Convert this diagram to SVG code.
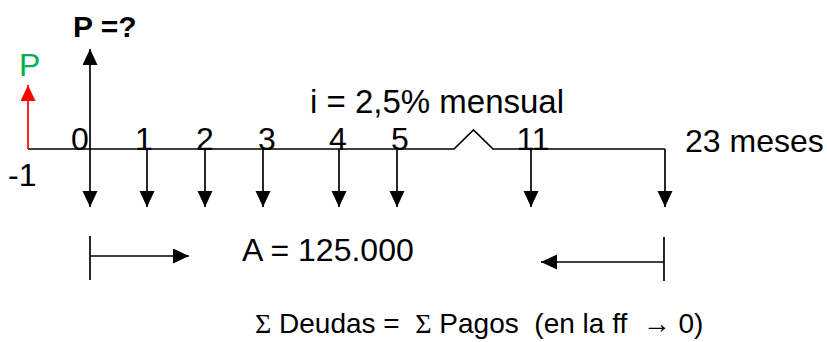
<svg xmlns="http://www.w3.org/2000/svg" width="827" height="342" viewBox="0 0 827 342">
<style>
.t{font-family:"Liberation Sans",Arial,sans-serif;font-size:32px;fill:#000}
.b{font-weight:bold;font-size:30px}
.ln{stroke:#000;stroke-width:1.7;fill:none}
.ar{stroke:#000;stroke-width:1.7;fill:none;marker-end:url(#ah)}
.sg{font-family:"Liberation Serif","Times New Roman",serif}
</style>
<defs>
<marker id="ah" markerUnits="userSpaceOnUse" markerWidth="17" markerHeight="16" refX="16" refY="7.5" orient="auto">
<path d="M0,0 L16,7.5 L0,15 z" fill="#000"/>
</marker>
<marker id="ahr" markerUnits="userSpaceOnUse" markerWidth="17" markerHeight="16" refX="16" refY="7.5" orient="auto">
<path d="M0,0 L16,7.5 L0,15 z" fill="#ff0000"/>
</marker>
</defs>
<g id="connectors">
<polyline id="timeline" class="ln" points="28,149 454,149 473.5,130 493,149 665,149"/>
<line class="ar" x1="90" y1="149" x2="90" y2="49"/>
<line x1="28" y1="149" x2="28" y2="85" stroke="#ff0000" stroke-width="1.7" marker-end="url(#ahr)"/>
<line class="ar" x1="90" y1="149" x2="90" y2="207"/>
<line class="ar" x1="147" y1="149" x2="147" y2="207"/>
<line class="ar" x1="205" y1="149" x2="205" y2="207"/>
<line class="ar" x1="263" y1="149" x2="263" y2="207"/>
<line class="ar" x1="339" y1="149" x2="339" y2="207"/>
<line class="ar" x1="397" y1="149" x2="397" y2="207"/>
<line class="ar" x1="531" y1="149" x2="531" y2="207"/>
<line class="ar" x1="665" y1="149" x2="665" y2="207"/>
<line class="ln" x1="90" y1="236" x2="90" y2="280"/>
<line class="ar" x1="90" y1="256" x2="189" y2="256"/>
<line class="ln" x1="664" y1="237" x2="664" y2="281"/>
<line class="ar" x1="664" y1="262" x2="541" y2="262"/>
</g>
<g id="labels">
<text class="t b" x="73" y="37">P =?</text>
<text class="t" x="19" y="76" style="fill:#00b050">P</text>
<text class="t" x="310" y="113" style="font-size:33px">i = 2,5% mensual</text>
<text class="t" x="685" y="152">23 meses</text>
<text class="t" x="8" y="186">-1</text>
<g text-anchor="middle">
<text class="t" x="80" y="150">0</text>
<text class="t" x="144" y="150">1</text>
<text class="t" x="205" y="150">2</text>
<text class="t" x="267" y="150">3</text>
<text class="t" x="338" y="150">4</text>
<text class="t" x="400" y="150">5</text>
<text class="t" x="533" y="150">11</text>
</g>
<text class="t" x="255" y="333" style="font-size:28px;white-space:pre" xml:space="preserve"><tspan class="sg">Σ</tspan> Deudas =  <tspan class="sg">Σ</tspan> Pagos  (en la ff  → 0)</text>
<text class="t" x="242" y="261">A = 125.000</text>
</g>
</svg>
